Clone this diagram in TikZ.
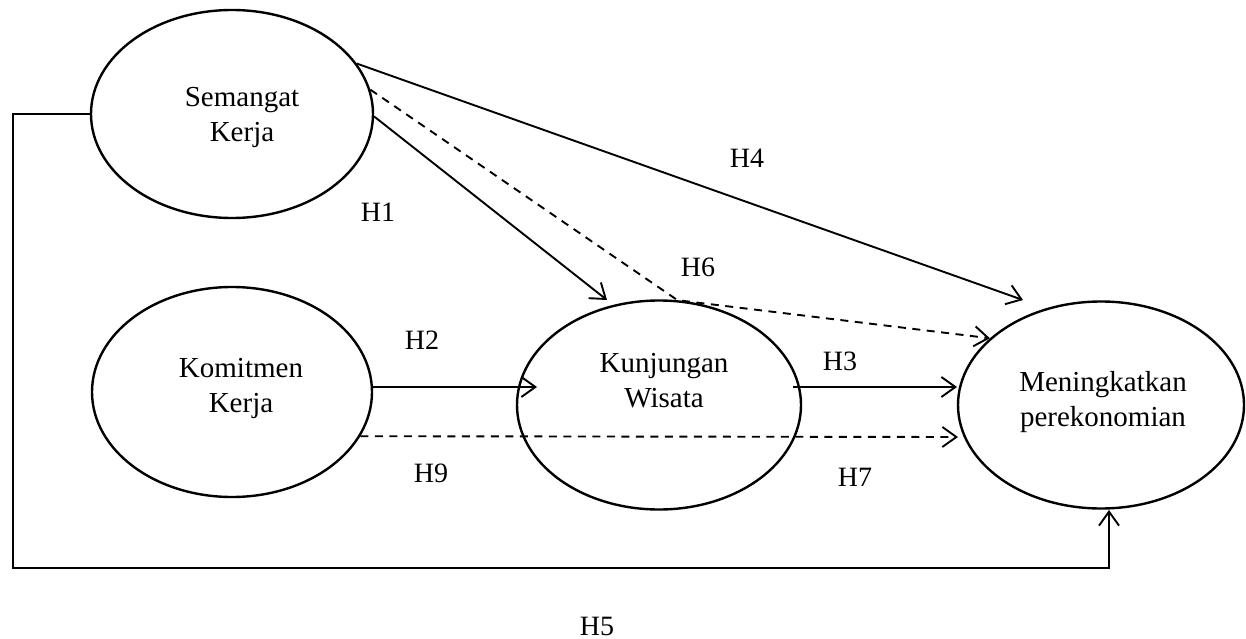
\documentclass[tikz,border=0pt]{standalone}
\usepackage{fontspec}
\setmainfont{Liberation Serif}
\usetikzlibrary{shapes.geometric,arrows.meta}
\tikzset{
  ell/.style={draw, ellipse, line width=2.4pt, inner sep=0pt, minimum width=#1},
  ell/.default=282pt,
  txt/.style={align=center, inner sep=0pt, font=\fontsize{29}{35}\selectfont},
  lab/.style={inner sep=0pt, font=\fontsize{28}{34}\selectfont},
  arr/.style={line width=1.9pt, -{Straight Barb[length=14pt,width=20pt,line width=1.9pt]}},
  dsh/.style={arr, dash pattern=on 8pt off 6.5pt},
}
\begin{document}
\begin{tikzpicture}[x=1pt,y=-1pt]
\useasboundingbox (0,0) rectangle (1246,639);
% ellipses
\node[ell=282pt, minimum height=208pt] (sk) at (232,114) {};
\node[ell=280pt, minimum height=210pt] (kt) at (232,392) {};
\node[ell=284pt, minimum height=209pt] (kw) at (659,405) {};
\node[ell=286pt, minimum height=207pt] (mp) at (1101,405) {};
% texts
\node[txt] (skt) at (242,117) {Semangat\\Kerja};
\node[txt] (ktt) at (241,388) {Komitmen\\Kerja};
\node[txt] (kwt) at (664,381) {Kunjungan\\Wisata};
\node[txt] (mpt) at (1103,402) {Meningkatkan\\perekonomian};
% coordinates
\coordinate (h1end) at (607,300);
\coordinate (h4end) at (1023,300);
\coordinate (h2beg) at (373,387);
\coordinate (h2end) at (537,387);
\coordinate (h3beg) at (793,387);
\coordinate (h3end) at (957,387);
\coordinate (h9end) at (958,437);
\coordinate (c1) at (13,568);
\coordinate (h5end) at (1109,510);
% connectors
\draw[arr] (sk.22) -- (h4end);
\draw[arr] (sk.-1) -- (h1end);
\draw[dsh] (sk.10.5) -- (kw.80) -- (mp.149);
\draw[arr] (h2beg) -- (h2end);
\draw[arr] (h3beg) -- (h3end);
\draw[dsh] (kt.-19.7) -- (h9end);
\draw[arr] (sk.west) -| (c1) -| (h5end);
% labels
\node[lab] (l1) at (378,212) {H1};
\node[lab] (l2) at (422,340) {H2};
\node[lab] (l4) at (747,158) {H4};
\node[lab] (l6) at (698,267) {H6};
\node[lab] (l3) at (840,361) {H3};
\node[lab] (l9) at (431,473) {H9};
\node[lab] (l7) at (855,477) {H7};
\node[lab] (l5) at (597,626) {H5};
\end{tikzpicture}
\end{document}
